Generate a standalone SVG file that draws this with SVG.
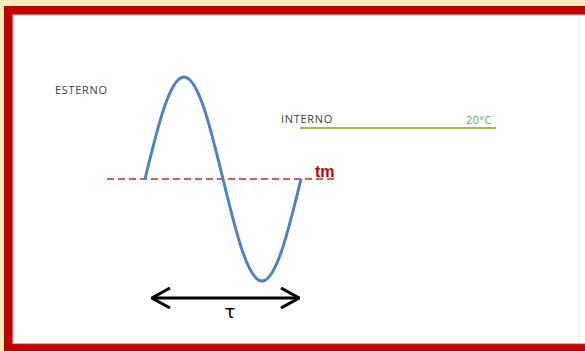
<svg xmlns="http://www.w3.org/2000/svg" width="585" height="351" viewBox="0 0 585 351">
<defs>
<style>
.lbl{font-family:"Open Sans","Liberation Sans",sans-serif;font-size:11px;fill:#404040;letter-spacing:0.7px}
</style>
<marker id="chev" viewBox="0 0 20 22" refX="19" refY="11" markerWidth="20" markerHeight="22" markerUnits="userSpaceOnUse" orient="auto-start-reverse">
<path d="M1,1 L19,11 L1,21" fill="none" stroke="#000" stroke-width="3"/>
</marker>
</defs>
<g id="frame">
<rect x="0" y="0" width="585" height="351" fill="#f8ebbd"/>
<rect x="4" y="6" width="600" height="360" fill="#c00000"/>
<rect x="13" y="15" width="580" height="328.5" fill="#ffffff" stroke="#b8b8b8" stroke-width="1.2"/>
<line x1="579" y1="16" x2="579" y2="343" stroke="#ececec" stroke-width="1"/>
</g>
<g id="esterno"><text class="lbl" x="55" y="94">ESTERNO</text></g>
<g id="interno">
<text class="lbl" x="281" y="123">INTERNO</text>
<line x1="300" y1="128" x2="496" y2="128" stroke="#9bbb59" stroke-width="2"/>
<text x="466" y="124" font-family="'Open Sans','Liberation Sans',sans-serif" font-size="11" fill="#4fb07a" letter-spacing="0.3">20°C</text>
</g>
<g id="tm">
<line x1="107" y1="179" x2="337" y2="179" stroke="#d0605c" stroke-width="2" stroke-dasharray="7,4"/>
<text x="315" y="177" font-family="'Liberation Sans',sans-serif" font-weight="bold" font-size="16" fill="#c00000">tm</text>
</g>
<g id="wave">
<path d="M145,179 C157.7,126.7 169.8,77 184,77 C198.2,77 210.3,126.7 223,179 C235.7,231.3 247.8,281 262,281 C276.2,281 288.3,231.3 301,179" fill="none" stroke="#4f81bd" stroke-width="3"/>
</g>
<g id="connectors">
<line x1="152" y1="298" x2="299" y2="298" stroke="#000" stroke-width="3" marker-start="url(#chev)" marker-end="url(#chev)"/>
</g>
<g id="tau"><text x="230" y="318" text-anchor="middle" font-family="'DejaVu Sans',sans-serif" font-size="18" fill="#000">τ</text></g>
</svg>
